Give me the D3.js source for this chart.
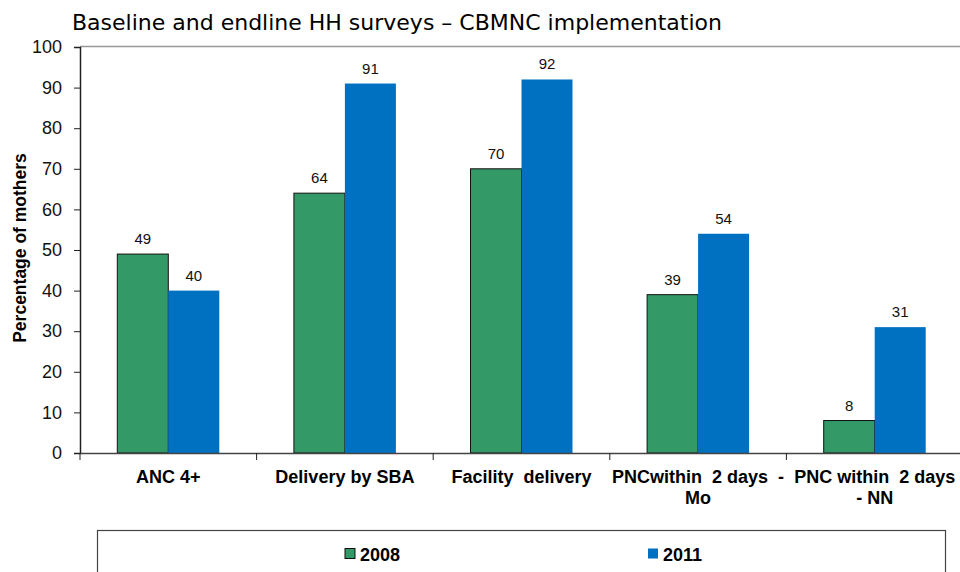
<!DOCTYPE html>
<html>
<head>
<meta charset="utf-8">
<script src="https://cdn.jsdelivr.net/npm/d3@7"></script>
<style>
  body { margin: 0; background: #fff; }
  text { font-family: "Liberation Sans", Arial, sans-serif; }
</style>
</head>
<body>
<div id="chart"></div>
<script>
const categories = ["ANC 4+", "Delivery by SBA", "Facility  delivery", "PNCwithin  2 days  -|Mo", "PNC within  2 days|- NN"];
const years = ["2008", "2011"];
const values2008 = [49, 64, 70, 39, 8];
const values2011 = [40, 91, 92, 54, 31];
const yTicks = [0, 10, 20, 30, 40, 50, 60, 70, 80, 90, 100];

const colors = { "2008": "#339966", "2011": "#0070c0" };

const width = 960, height = 572;
const svg = d3.select("#chart").append("svg")
  .attr("width", width).attr("height", height);

const x = d3.scaleBand().domain(categories).range([80, 963]);
const y = d3.scaleLinear().domain([0, 100]).range([453, 47]);
const barW = 51;

// title
svg.append("text")
  .attr("x", 72).attr("y", 30)
  .style("font-family", "'DejaVu Sans', sans-serif")
  .style("font-size", "22px")
  .text("Baseline and endline HH surveys – CBMNC implementation");

// top border line
svg.append("line")
  .attr("x1", 80).attr("x2", width)
  .attr("y1", 46.5).attr("y2", 46.5)
  .attr("stroke", "#999").attr("stroke-width", 1.5);

// y axis
const yAxis = svg.append("g")
  .attr("transform", "translate(80,0)")
  .call(d3.axisLeft(y).tickValues(yTicks).tickSize(6).tickPadding(12));
yAxis.select(".domain").attr("stroke", "#222").attr("stroke-width", 1.5);
yAxis.selectAll(".tick line").attr("stroke", "#222");
yAxis.selectAll(".tick text")
  .style("font-size", "18px").attr("fill", "#111");

svg.append("text")
  .attr("transform", "translate(26,248) rotate(-90)")
  .attr("text-anchor", "middle")
  .style("font-size", "17.5px").style("font-weight", "bold")
  .text("Percentage of mothers");

// bars
const series = [
  { year: "2008", vals: values2008, off: -barW },
  { year: "2011", vals: values2011, off: 0 }
];
series.forEach(s => {
  const g = svg.append("g");
  g.selectAll("rect").data(categories).enter().append("rect")
    .attr("x", (d) => x(d) + x.bandwidth() / 2 + s.off)
    .attr("y", (d, i) => y(s.vals[i]))
    .attr("width", barW)
    .attr("height", (d, i) => y(0) - y(s.vals[i]))
    .attr("fill", colors[s.year])
    .attr("stroke", s.year === "2008" ? "#111" : "none")
    .attr("stroke-width", 1);
  g.selectAll("text").data(categories).enter().append("text")
    .attr("x", (d) => x(d) + x.bandwidth() / 2 + s.off + barW / 2)
    .attr("y", (d, i) => y(s.vals[i]) - 10)
    .attr("text-anchor", "middle")
    .style("font-size", "15px").attr("fill", "#111")
    .text((d, i) => s.vals[i]);
});

// x axis
const xAxis = svg.append("g")
  .attr("transform", "translate(0,453)")
  .call(d3.axisBottom(x).tickSize(0).tickFormat(""));
xAxis.select(".domain").attr("stroke", "#444").attr("stroke-width", 1.5);
svg.append("g").selectAll("line").data(categories).enter().append("line")
  .attr("x1", (d) => x(d)).attr("x2", (d) => x(d))
  .attr("y1", 453).attr("y2", 460)
  .attr("stroke", "#222");

const labels = svg.append("g");
categories.forEach(c => {
  const t = labels.append("text")
    .attr("text-anchor", "middle")
    .style("font-size", "18px").style("font-weight", "bold")
    .style("white-space", "pre");
  c.split("|").forEach((line, i) => {
    t.append("tspan")
      .attr("x", x(c) + x.bandwidth() / 2)
      .attr("y", 483 + i * 21)
      .text(line);
  });
});

// legend
svg.append("rect")
  .attr("x", 97.5).attr("y", 530.5)
  .attr("width", 848).attr("height", 60)
  .attr("fill", "none").attr("stroke", "#444").attr("stroke-width", 1.2);
const legX = { "2008": 345, "2011": 648 };
years.forEach(yr => {
  svg.append("rect")
    .attr("x", legX[yr]).attr("y", 548.5)
    .attr("width", 10).attr("height", 10)
    .attr("fill", colors[yr])
    .attr("stroke", yr === "2008" ? "#111" : "none");
  svg.append("text")
    .attr("x", legX[yr] + 15).attr("y", 561)
    .style("font-size", "18px").style("font-weight", "bold")
    .text(yr);
});
</script>
</body>
</html>
